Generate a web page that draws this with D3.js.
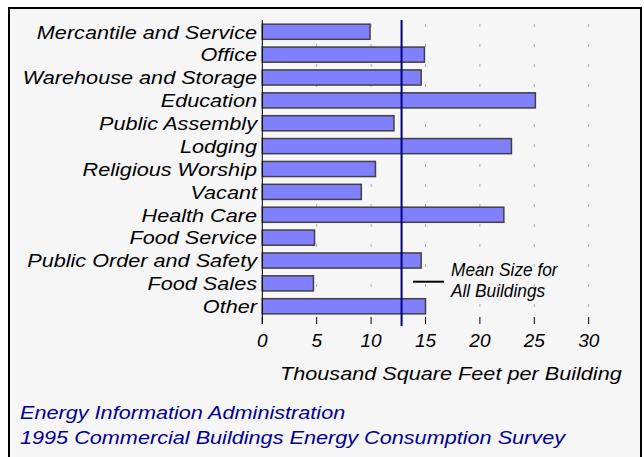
<!DOCTYPE html>
<html>
<head>
<meta charset="utf-8">
<script src="https://cdn.jsdelivr.net/npm/d3@7"></script>
<style>
  body { margin: 0; background: #fff; }
  svg text { font-family: "Liberation Sans", Arial, sans-serif; font-style: italic; }
</style>
</head>
<body>
<div id="container"></div>
<script>
// Chart size
const width = 644;
const height = 457;

// Data
const categories = [
    "Mercantile and Service", "Office", "Warehouse and Storage", "Education",
    "Public Assembly", "Lodging", "Religious Worship", "Vacant", "Health Care",
    "Food Service", "Public Order and Safety", "Food Sales", "Other"
];
const sizes = [9.9, 14.9, 14.6, 25.1, 12.1, 22.9, 10.4, 9.1, 22.2, 4.8, 14.6, 4.7, 15.0];
const meanSize = 12.8;
const xTicks = [0, 5, 10, 15, 20, 25, 30];

const data = categories.map((c, i) => ({ name: c, value: sizes[i] }));

// The source font is a bit wider than Liberation Sans
const stretch = 1.14;

const svg = d3.select("#container")
    .append("svg")
    .attr("width", width)
    .attr("height", height);

// Frame
svg.append("rect")
    .attr("x", 9)
    .attr("y", 8)
    .attr("width", 632)
    .attr("height", 470)
    .attr("fill", "#f6f6f6")
    .attr("stroke", "#000")
    .attr("stroke-width", 2);

// Scales
const x = d3.scaleLinear()
    .domain([0, 30])
    .range([262.3, 588.7]);

const y = d3.scaleBand()
    .domain(categories)
    .range([20.3, 317.7])
    .paddingInner(0.34)
    .paddingOuter(0.17);

const plotTop = 20, axisBottom = 317, tickEnd = 324;

// Dashed grid lines
svg.append("g")
    .selectAll("line")
    .data(xTicks.filter(d => d > 0))
    .enter()
    .append("line")
    .attr("x1", d => x(d))
    .attr("x2", d => x(d))
    .attr("y1", plotTop + 4)
    .attr("y2", axisBottom)
    .attr("stroke", "#aaa")
    .attr("stroke-width", 1)
    .attr("stroke-dasharray", "3,17");

// Bars
svg.append("g")
    .selectAll("rect")
    .data(data)
    .enter()
    .append("rect")
    .attr("x", x(0))
    .attr("y", d => y(d.name))
    .attr("width", d => x(d.value) - x(0))
    .attr("height", y.bandwidth())
    .attr("fill", "#8080ff")
    .attr("stroke", "#404040")
    .attr("stroke-width", 1.5);

// Axis line and ticks
svg.append("line")
    .attr("x1", x(0))
    .attr("x2", x(0))
    .attr("y1", plotTop)
    .attr("y2", tickEnd)
    .attr("stroke", "#000")
    .attr("stroke-width", 1);

svg.append("g")
    .selectAll("line")
    .data(xTicks)
    .enter()
    .append("line")
    .attr("x1", d => x(d))
    .attr("x2", d => x(d))
    .attr("y1", axisBottom)
    .attr("y2", tickEnd)
    .attr("stroke", "#000")
    .attr("stroke-width", 1);

svg.append("g")
    .attr("font-size", 19)
    .attr("text-anchor", "middle")
    .selectAll("text")
    .data(xTicks)
    .enter()
    .append("text")
    .attr("x", d => x(d))
    .attr("y", 347)
    .text(d => d);

// Category labels
svg.append("g")
    .attr("font-size", 19)
    .attr("text-anchor", "end")
    .selectAll("text")
    .data(categories)
    .enter()
    .append("text")
    .attr("transform", d => `translate(257,${y(d) + y.bandwidth() / 2}) scale(${stretch},1)`)
    .attr("dy", "0.36em")
    .text(d => d);

// Mean line
svg.append("line")
    .attr("x1", x(meanSize))
    .attr("x2", x(meanSize))
    .attr("y1", plotTop)
    .attr("y2", 326)
    .attr("stroke", "#000080")
    .attr("stroke-width", 2);

// Legend for mean
svg.append("line")
    .attr("x1", 413)
    .attr("x2", 444)
    .attr("y1", 281.7)
    .attr("y2", 281.7)
    .attr("stroke", "#000")
    .attr("stroke-width", 2);

svg.append("g")
    .attr("font-size", 19)
    .selectAll("text")
    .data(["Mean Size for", "All Buildings"])
    .enter()
    .append("text")
    .attr("transform", (d, i) => `translate(451,${276 + i * 21}) scale(0.91,1)`)
    .text(d => d);

// Axis title
svg.append("text")
    .attr("font-size", 19)
    .attr("transform", `translate(280,380) scale(${stretch},1)`)
    .text("Thousand Square Feet per Building");

// Source
svg.append("g")
    .attr("font-size", 19)
    .attr("fill", "#000090")
    .selectAll("text")
    .data(["Energy Information Administration", "1995 Commercial Buildings Energy Consumption Survey"])
    .enter()
    .append("text")
    .attr("transform", (d, i) => `translate(20,${419 + i * 24.5}) scale(${stretch},1)`)
    .text(d => d);
</script>
</body>
</html>
